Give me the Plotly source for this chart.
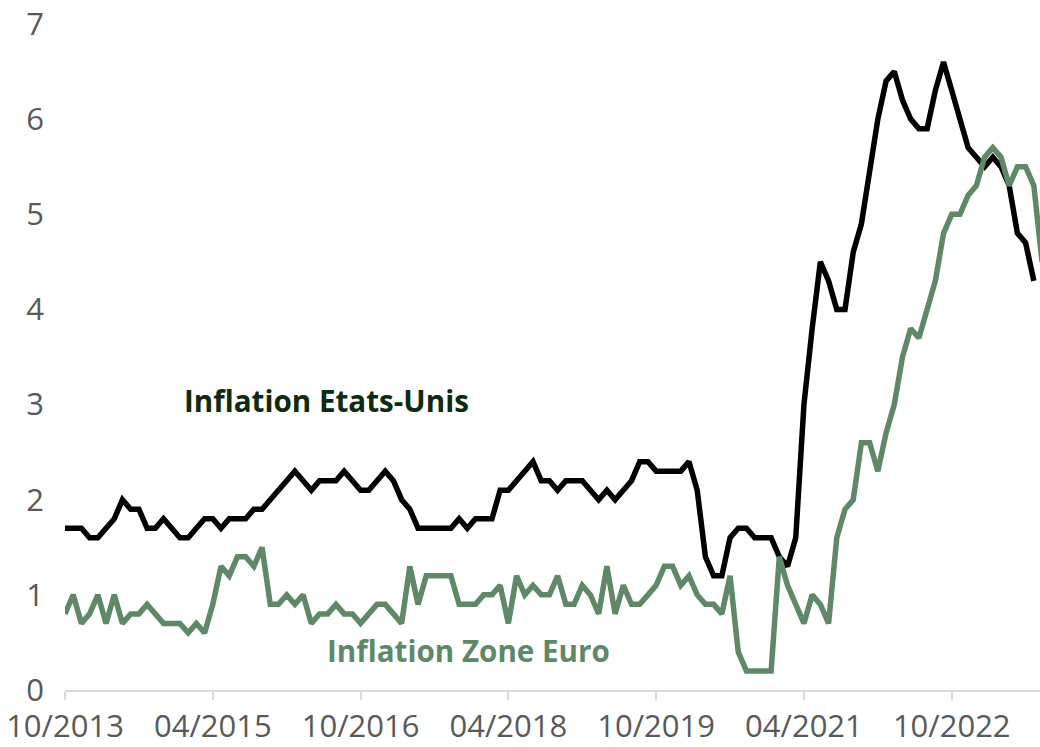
import plotly.graph_objects as go

# Monthly observations from 10/2013
start_year, start_month = 2013, 10

us_core = [1.7, 1.7, 1.7,
           1.6, 1.6, 1.7, 1.8, 2.0, 1.9, 1.9, 1.7, 1.7, 1.8, 1.7, 1.6,
           1.6, 1.7, 1.8, 1.8, 1.7, 1.8, 1.8, 1.8, 1.9, 1.9, 2.0, 2.1,
           2.2, 2.3, 2.2, 2.1, 2.2, 2.2, 2.2, 2.3, 2.2, 2.1, 2.1, 2.2,
           2.3, 2.2, 2.0, 1.9, 1.7, 1.7, 1.7, 1.7, 1.7, 1.8, 1.7, 1.8,
           1.8, 1.8, 2.1, 2.1, 2.2, 2.3, 2.4, 2.2, 2.2, 2.1, 2.2, 2.2,
           2.2, 2.1, 2.0, 2.1, 2.0, 2.1, 2.2, 2.4, 2.4, 2.3, 2.3, 2.3,
           2.3, 2.4, 2.1, 1.4, 1.2, 1.2, 1.6, 1.7, 1.7, 1.6, 1.6, 1.6,
           1.4, 1.3, 1.6, 3.0, 3.8, 4.5, 4.3, 4.0, 4.0, 4.6, 4.9, 5.5,
           6.0, 6.4, 6.5, 6.2, 6.0, 5.9, 5.9, 6.3, 6.6, 6.3, 6.0, 5.7,
           5.6, 5.5, 5.6, 5.5, 5.3, 4.8, 4.7, 4.3]

euro_core = [0.8, 1.0, 0.7,
             0.8, 1.0, 0.7, 1.0, 0.7, 0.8, 0.8, 0.9, 0.8, 0.7, 0.7, 0.7,
             0.6, 0.7, 0.6, 0.9, 1.3, 1.2, 1.4, 1.4, 1.3, 1.5, 0.9, 0.9,
             1.0, 0.9, 1.0, 0.7, 0.8, 0.8, 0.9, 0.8, 0.8, 0.7, 0.8, 0.9,
             0.9, 0.8, 0.7, 1.3, 0.9, 1.2, 1.2, 1.2, 1.2, 0.9, 0.9, 0.9,
             1.0, 1.0, 1.1, 0.7, 1.2, 1.0, 1.1, 1.0, 1.0, 1.2, 0.9, 0.9,
             1.1, 1.0, 0.8, 1.3, 0.8, 1.1, 0.9, 0.9, 1.0, 1.1, 1.3, 1.3,
             1.1, 1.2, 1.0, 0.9, 0.9, 0.8, 1.2, 0.4, 0.2, 0.2, 0.2, 0.2,
             1.4, 1.1, 0.9, 0.7, 1.0, 0.9, 0.7, 1.6, 1.9, 2.0, 2.6, 2.6,
             2.3, 2.7, 3.0, 3.5, 3.8, 3.7, 4.0, 4.3, 4.8, 5.0, 5.0, 5.2,
             5.3, 5.6, 5.7, 5.6, 5.3, 5.5, 5.5, 5.3, 4.5]

n_months = max(len(us_core), len(euro_core))
month_labels = []
for i in range(n_months):
    m = (start_month - 1 + i) % 12 + 1
    y = start_year + (start_month - 1 + i) // 12
    month_labels.append(f"{m:02d}/{y}")

tick_idx = list(range(0, n_months, 18))
tick_text = [month_labels[i] for i in tick_idx]

label_us = "Inflation Etats-Unis"
label_euro = "Inflation Zone Euro"

BLACK = "#000000"
GREEN = "#5E8868"
DARK_GREEN = "#0E2A10"
GREY = "#595959"
FONT = "Open Sans"

fig = go.Figure()
fig.add_trace(go.Scatter(x=list(range(len(us_core))), y=us_core, mode="lines",
                         line=dict(color=BLACK, width=5.5), name=label_us,
                         hoverinfo="skip"))
fig.add_trace(go.Scatter(x=list(range(len(euro_core))), y=euro_core, mode="lines",
                         line=dict(color=GREEN, width=5.5), name=label_euro,
                         hoverinfo="skip"))

fig.add_annotation(x=31.9, y=3.04, xref="x", yref="y", text=f"<b>{label_us}</b>",
                   showarrow=False, font=dict(family=FONT, size=29.6, color=DARK_GREEN))
fig.add_annotation(x=49.2, y=0.42, xref="x", yref="y", text=f"<b>{label_euro}</b>",
                   showarrow=False, font=dict(family=FONT, size=29.6, color=GREEN))

fig.update_layout(
    width=1040, height=747,
    margin=dict(l=65, r=0, t=24, b=57),
    plot_bgcolor="white", paper_bgcolor="white",
    showlegend=False,
    font=dict(family=FONT, color=GREY),
)
fig.update_xaxes(range=[0, 118.75], tickvals=tick_idx, ticktext=tick_text,
                 showgrid=False, zeroline=False, showline=True, automargin=False,
                 ticklabeloverflow="allow",
                 linecolor="#D9D9D9", linewidth=2, ticks="outside",
                 ticklen=8, tickwidth=2, tickcolor="#D9D9D9",
                 tickfont=dict(family=FONT, size=31, color=GREY))
fig.update_yaxes(range=[0, 7], dtick=1, showgrid=False, zeroline=False,
                 showline=False, ticks="", ticklabelstandoff=20, automargin=False,
                 ticklabeloverflow="allow",
                 tickfont=dict(family=FONT, size=31, color=GREY))

fig.write_html("out.html", config={"displayModeBar": False},
               post_script="document.body.style.margin='0';document.body.style.overflow='hidden';")
